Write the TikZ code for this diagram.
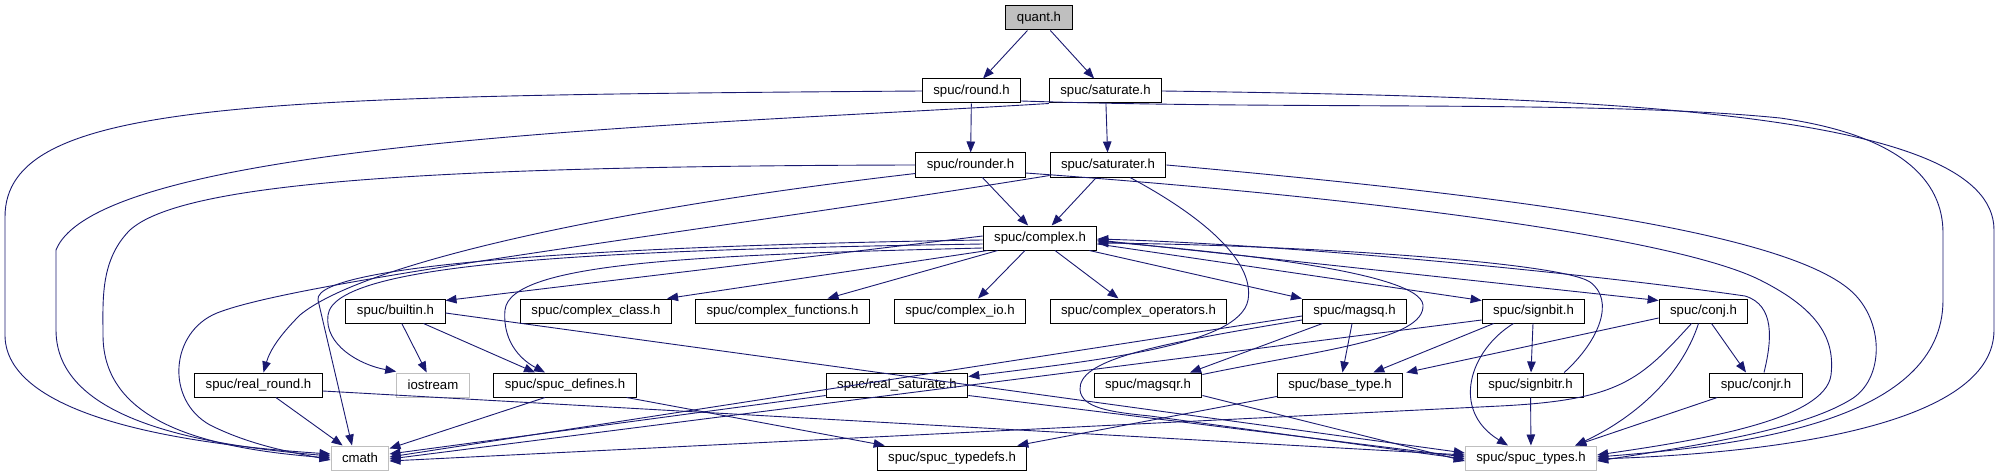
\documentclass[tikz,border=0pt]{standalone}
\usepackage{fontspec}
\setmainfont{Liberation Sans}
\usetikzlibrary{arrows.meta, calc, positioning}
\definecolor{edgeblue}{HTML}{191970}
\definecolor{boxgray}{HTML}{BFBFBF}
\begin{document}
\begin{tikzpicture}[x=1pt, y=-1pt,
    hdr/.style={draw=black, line width=1pt, minimum height=24pt,
                inner xsep=11pt, inner ysep=0pt,
                font=\fontsize{13.2}{15}\selectfont},
    sys/.style={hdr, draw=boxgray},
    topfile/.style={hdr, fill=boxgray},
    dep/.style={-{Triangle[length=11pt,width=8.5pt]}, draw=edgeblue, line width=0.9pt},
]
\useasboundingbox (0,0) rectangle (1997,476);
\node[topfile] (quant) at (1039,18) {quant.h};
\node[hdr] (round) at (971.5,91) {spuc/round.h};
\node[hdr] (saturate) at (1105.5,91) {spuc/saturate.h};
\node[hdr] (rounder) at (970.5,165) {spuc/rounder.h};
\node[hdr] (saturater) at (1108,165) {spuc/saturater.h};
\node[hdr] (complex) at (1040,238) {spuc/complex.h};
\node[hdr] (builtin) at (395.5,311) {spuc/builtin.h};
\node[hdr] (cclass) at (596,311) {spuc/complex\_class.h};
\node[hdr] (cfunc) at (782.5,311) {spuc/complex\_functions.h};
\node[hdr] (cio) at (960,311) {spuc/complex\_io.h};
\node[hdr] (cops) at (1138.5,311) {spuc/complex\_operators.h};
\node[hdr] (magsq) at (1354.5,311) {spuc/magsq.h};
\node[hdr] (signbit) at (1533.5,311) {spuc/signbit.h};
\node[hdr] (conj) at (1703.5,311) {spuc/conj.h};
\node[hdr] (realround) at (258.5,385) {spuc/real\_round.h};
\node[sys] (iostream) at (433,385) {iostream};
\node[hdr] (defines) at (565,385) {spuc/spuc\_defines.h};
\node[hdr] (realsat) at (897,385) {spuc/real\_saturate.h};
\node[hdr] (magsqr) at (1148,385) {spuc/magsqr.h};
\node[hdr] (basetype) at (1340,385) {spuc/base\_type.h};
\node[hdr] (signbitr) at (1530.5,385) {spuc/signbitr.h};
\node[hdr] (conjr) at (1756,385) {spuc/conjr.h};
\node[sys] (cmath) at (360,458) {cmath};
\node[hdr] (typedefs) at (952,458) {spuc/spuc\_typedefs.h};
\node[sys] (types) at (1531,458) {spuc/spuc\_types.h};
\draw[dep] (quant) -- (round);
\draw[dep] (quant) -- (saturate);
\draw[dep] (round) -- (rounder);
\draw[dep] (saturate) -- (saturater);
\draw[dep] (rounder) -- (complex);
\draw[dep] (saturater) -- (complex);
\draw[dep] (round.west) .. controls (250,96) and (5,100) .. (5,217) -- (5,335)
   .. controls (5,400) and (120,440) .. ($(cmath.west)+(0,-4)$);
\draw[dep] (saturate.south west) .. controls (700,125) and (100,140) .. (56,250)
   -- (56,330) .. controls (56,420) and (200,445) .. ($(cmath.west)+(0,-2)$);
\draw[dep] (rounder.west) .. controls (400,166) and (180,185) .. (130,230)
   .. controls (100,260) and (103,300) .. (103,335) .. controls (103,420) and (200,448) .. (cmath.west);
\draw[dep] ($(saturater.south west)+(0,-2)$) .. controls (700,232) and (300,280) .. (217,313)
   .. controls (170,332) and (165,400) .. (210,425) .. controls (250,445) and (290,452) .. ($(cmath.west)+(0,2)$);
\draw[dep] ($(round.east)+(0,10)$) .. controls (1300,110) and (1600,100) .. (1780,118)
   .. controls (1900,135) and (1943,180) .. (1943,233) -- (1943,300)
   .. controls (1943,420) and (1750,445) .. ($(types.east)+(0,-1)$);
\draw[dep] (saturate.east) .. controls (1600,97) and (1994,110) .. (1994,230) -- (1994,330)
   .. controls (1994,420) and (1800,452) .. ($(types.east)+(0,1)$);
\draw[dep] ($(rounder.east)+(0,8)$) .. controls (1400,200) and (1680,240) .. (1760,280)
   .. controls (1820,310) and (1835,340) .. (1831,375) .. controls (1825,420) and (1700,440) .. ($(types.east)+(0,-3)$);
\draw[dep] (saturater.east) .. controls (1500,195) and (1780,230) .. (1850,290)
   .. controls (1885,320) and (1885,380) .. (1850,400) .. controls (1800,430) and (1700,445) .. ($(types.east)+(0,3)$);
\draw[dep] ($(saturater.south)+(22,0)$) .. controls (1200,215) and (1255,260) .. (1248,300)
   .. controls (1240,345) and (1100,360) .. ($(realsat.north east)+(0,4)$);
\draw[dep] ($(rounder.south west)+(0,-4)$) .. controls (600,210) and (360,265) .. (300,315)
   .. controls (280,335) and (270,350) .. ($(realround.north)+(5,0)$);
\draw[dep] ($(complex.west)+(0,-2)$) -- ($(builtin.north east)+(0,2)$);
\draw[dep] ($(complex.south west)+(5,0)$) -- ($(cclass.north east)+(-5,0)$);
\draw[dep] ($(complex.south west)+(15,0)$) -- ($(cfunc.north)+(45,0)$);
\draw[dep] ($(complex.south)+(-15,0)$) -- ($(cio.north)+(18,0)$);
\draw[dep] ($(complex.south)+(15,0)$) -- ($(cops.north)+(-20,0)$);
\draw[dep] ($(complex.south east)+(-8,0)$) -- (magsq.north west);
\draw[dep] ($(complex.east)+(0,6)$) -- ($(signbit.north west)+(0,2)$);
\draw[dep] ($(complex.east)+(0,2)$) -- ($(conj.north west)+(0,2)$);
\draw[dep] ($(complex.west)+(0,2)$) .. controls (650,245) and (312,262) .. (318,300)
   -- ($(cmath.north)+(-8,0)$);
\draw[dep] ($(complex.west)+(0,6)$) .. controls (600,250) and (335,262) .. (328,315)
   .. controls (324,345) and (360,365) .. ($(iostream.north west)+(0,-1)$);
\draw[dep] ($(complex.west)+(0,10)$) .. controls (700,255) and (510,262) .. (505,310)
   .. controls (502,345) and (525,362) .. ($(defines.north)+(-20,0)$);
\draw[dep] (builtin) -- (iostream);
\draw[dep] ($(builtin.south)+(28,0)$) -- ($(defines.north)+(-30,0)$);
\draw[dep] ($(builtin.east)+(0,2)$) -- ($(types.west)+(0,-5)$);
\draw[dep] (realround) -- (cmath);
\draw[dep] ($(realround.east)+(0,6)$) -- ($(types.west)+(0,-3)$);
\draw[dep] ($(defines.south)+(-20,0)$) -- ($(cmath.north east)+(0,3)$);
\draw[dep] ($(defines.south east)+(-10,0)$) -- ($(typedefs.north west)+(8,0)$);
\draw[dep] ($(realsat.south west)+(0,-2)$) -- ($(cmath.east)+(0,-4)$);
\draw[dep] ($(realsat.south east)+(0,-2)$) -- ($(types.west)+(0,-1)$);
\draw[dep] ($(magsq.west)+(0,5)$) -- ($(cmath.east)+(0,-1)$);
\draw[dep] ($(magsq.west)+(0,9)$) .. controls (1150,345) and (1078,360) .. (1080,390)
   .. controls (1082,408) and (1110,412) .. (1150,416) -- ($(types.west)+(0,1)$);
\draw[dep] ($(magsq.south)+(-32,0)$) -- ($(magsqr.north)+(42,0)$);
\draw[dep] (magsq) -- (basetype);
\draw[dep] ($(magsqr.north east)+(0,2)$) .. controls (1320,350) and (1425,340) .. (1423,305)
   .. controls (1420,270) and (1200,250) .. ($(complex.east)+(0,3)$);
\draw[dep] ($(magsqr.south east)+(0,-2)$) -- ($(types.west)+(0,3)$);
\draw[dep] ($(basetype.south west)+(0,-1)$) -- ($(typedefs.north east)+(-10,0)$);
\draw[dep] ($(signbit.west)+(0,9)$) -- ($(cmath.east)+(0,1)$);
\draw[dep] ($(signbit.south west)+(12,0)$) -- ($(basetype.north east)+(-30,0)$);
\draw[dep] (signbit) -- (signbitr);
\draw[dep] ($(signbit.south)+(-20,0)$) .. controls (1470,350) and (1450,410) .. ($(types.north)+(-23,0)$);
\draw[dep] (signbitr) -- (types);
\draw[dep] ($(signbitr.north east)+(-20,0)$) .. controls (1600,340) and (1615,300) .. (1590,282)
   .. controls (1560,262) and (1300,245) .. ($(complex.east)+(0,5)$);
\draw[dep] ($(conj.west)+(0,7)$) -- ($(basetype.north east)+(3,0)$);
\draw[dep] ($(conj.south)+(-12,0)$) .. controls (1640,380) and (1620,400) .. (1500,406)
   -- ($(cmath.east)+(0,3)$);
\draw[dep] ($(conj.south)+(-5,0)$) .. controls (1680,380) and (1630,420) .. ($(types.north east)+(-22,0)$);
\draw[dep] ($(conj.south)+(8,0)$) -- ($(conjr.north)+(-10,0)$);
\draw[dep] ($(conjr.south west)+(8,0)$) -- ($(types.north east)+(-22,0)$);
\draw[dep] ($(conjr.north)+(8,0)$) .. controls (1772,340) and (1775,305) .. (1745,296)
   .. controls (1600,275) and (1300,245) .. ($(complex.east)+(0,1)$);
\end{tikzpicture}
\end{document}
